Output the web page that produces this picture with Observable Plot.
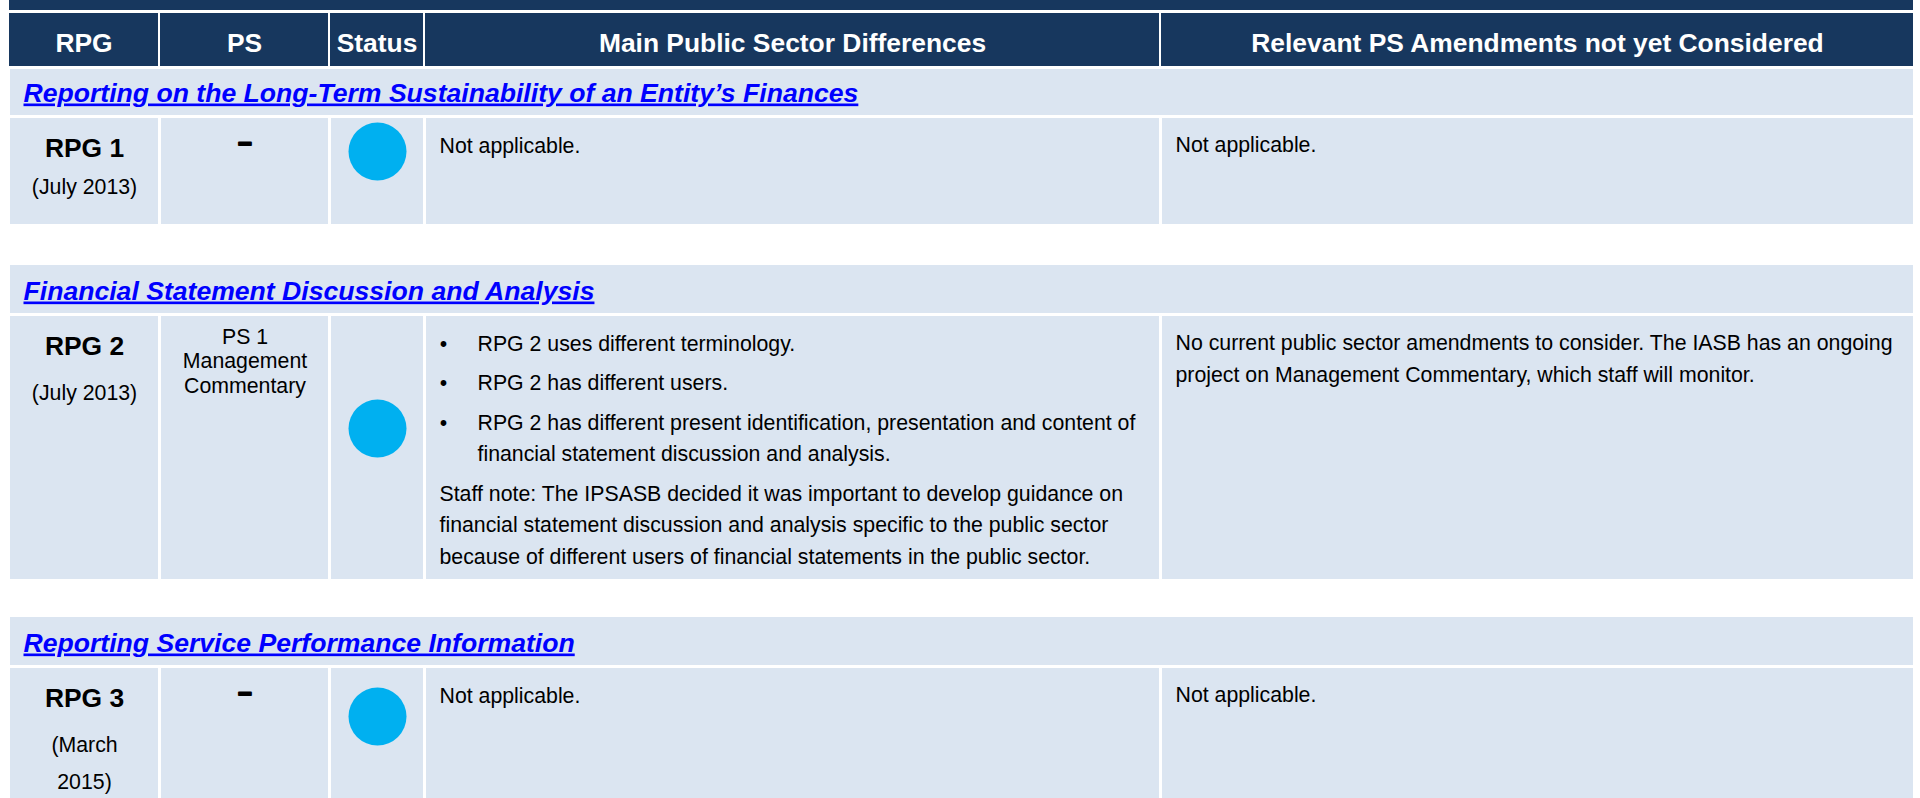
<!DOCTYPE html>
<html>
<head>
<meta charset="utf-8">
<script src="https://cdn.jsdelivr.net/npm/d3@7"></script>
<script src="https://cdn.jsdelivr.net/npm/@observablehq/plot@0.6"></script>
<style>
  html, body { margin: 0; padding: 0; background: #ffffff; overflow: hidden; }
  #chart svg { display: block; }
</style>
</head>
<body>
<div id="chart"></div>
<script>
// ---------------- DATA ----------------
const columns = ["RPG", "PS", "Status", "Main Public Sector Differences", "Relevant PS Amendments not yet Considered"];
const sections = [
  "Reporting on the Long-Term Sustainability of an Entity’s Finances",
  "Financial Statement Discussion and Analysis",
  "Reporting Service Performance Information"
];
const rpgCodes = ["RPG 1", "RPG 2", "RPG 3"];
const rpgDates = [["(July 2013)"], ["(July 2013)"], ["(March", "2015)"]];
const psRefs = [["–"], ["PS 1", "Management", "Commentary"], ["–"]];
const statuses = ["complete", "complete", "complete"];
const differences = [
  [{bullet: false, lines: ["Not applicable."]}],
  [
    {bullet: true, lines: ["RPG 2 uses different terminology."]},
    {bullet: true, lines: ["RPG 2 has different users."]},
    {bullet: true, lines: ["RPG 2 has different present identification, presentation and content of", "financial statement discussion and analysis."]},
    {bullet: false, lines: ["Staff note: The IPSASB decided it was important to develop guidance on", "financial statement discussion and analysis specific to the public sector", "because of different users of financial statements in the public sector."]}
  ],
  [{bullet: false, lines: ["Not applicable."]}]
];
const amendments = [
  ["Not applicable."],
  ["No current public sector amendments to consider. The IASB has an ongoing", "project on Management Commentary, which staff will monitor."],
  ["Not applicable."]
];

// ---------------- LAYOUT / STYLE ----------------
const W = 1920, H = 798;
const NAVY = "#17375E", LIGHT = "#DBE5F1", LINK = "#0000FF", STATUS_FILL = "#00B0F0", INK = "#000000";
const FONT = "'Liberation Sans', Arial, Helvetica, sans-serif";
const HEAD_SIZE = 26.4, SECTION_SIZE = 26.6, BODY_SIZE = 21.3;
const topBar = [0, 10];
const headerBand = [13, 66];
const headerCols = [[9, 158], [160, 328], [330, 423], [425, 1159], [1161, 1913]];
const dataCols = [[10, 158], [161, 328], [331, 423], [426, 1159], [1162, 1913]];
const sectionBands = [[69, 115], [265, 313], [617, 665]];
const rowBands = [[118, 224], [316, 579], [668, 800]];
const rowTweaks = [{dateDy: 75, circleDy: 33}, {dateDy: 83, circleDy: 112}, {dateDy: 83, circleDy: 48}];
const LINE_STEP = 31.5, PARA_STEP = 39.5;

const mid = ([a, b]) => (a + b) / 2;

// build cells
const rects = [];
rects.push({x1: headerCols[0][0], x2: headerCols[4][1], y1: topBar[0], y2: topBar[1], fill: NAVY});
headerCols.forEach(c => rects.push({x1: c[0], x2: c[1], y1: headerBand[0], y2: headerBand[1], fill: NAVY}));
sectionBands.forEach(b => rects.push({x1: dataCols[0][0], x2: dataCols[4][1], y1: b[0], y2: b[1], fill: LIGHT}));
rowBands.forEach(b => dataCols.forEach(c => rects.push({x1: c[0], x2: c[1], y1: b[0], y2: b[1], fill: LIGHT})));

// build texts
const texts = [];
columns.forEach((c, i) => texts.push({kind: "header", x: mid(headerCols[i]), y: headerBand[0] + 38, text: c}));
sections.forEach((s, i) => texts.push({kind: "section", x: 23, y: sectionBands[i][1] - 14, text: s}));
const circles = [];
rowBands.forEach(([top], i) => {
  texts.push({kind: "code", x: mid(dataCols[0]), y: top + 38.5, text: rpgCodes[i]});
  rpgDates[i].forEach((t, j) => texts.push({kind: "center", x: mid(dataCols[0]), y: top + rowTweaks[i].dateDy + j * 37, text: t}));
  if (psRefs[i].length === 1 && psRefs[i][0] === "–") {
    texts.push({kind: "dash", x: mid(dataCols[1]), y: top + 31, text: psRefs[i][0]});
  } else {
    psRefs[i].forEach((t, j) => texts.push({kind: "center", x: mid(dataCols[1]), y: top + 27 + j * 24.5, text: t}));
  }
  circles.push({x: mid(dataCols[2]), y: top + rowTweaks[i].circleDy, status: statuses[i]});
  let y = top + 34;
  differences[i].forEach((p, k) => {
    if (k > 0) y += PARA_STEP;
    p.lines.forEach((l, j) => {
      if (j > 0) y += LINE_STEP;
      texts.push({kind: "body", x: p.bullet ? dataCols[3][0] + 51 : dataCols[3][0] + 13, y, text: l});
      if (p.bullet && j === 0) texts.push({kind: "bullet", x: dataCols[3][0] + 17, y, text: "•"});
    });
  });
  amendments[i].forEach((l, j) => texts.push({kind: "body", x: dataCols[4][0] + 13, y: top + 33.5 + j * 32, text: l}));
});

const T = k => texts.filter(d => d.kind === k);

const chart = Plot.plot({
  width: W,
  height: H,
  margin: 0,
  x: {type: "identity", axis: null},
  y: {type: "identity", axis: null},
  style: {background: "#ffffff", fontFamily: FONT},
  marks: [
    Plot.rect(rects, {x1: "x1", x2: "x2", y1: "y1", y2: "y2", fill: d => d.fill, shapeRendering: "crispEdges"}),
    Plot.text(T("header"), {x: "x", y: "y", text: "text", fill: "#ffffff", fontSize: HEAD_SIZE, fontWeight: "bold", fontFamily: FONT, textAnchor: "middle", lineAnchor: "bottom"}),
    Plot.text(T("section"), {x: "x", y: "y", text: "text", fill: LINK, fontSize: SECTION_SIZE, fontWeight: "bold", fontStyle: "italic", fontFamily: FONT, textAnchor: "start", lineAnchor: "bottom"}),
    Plot.text(T("code"), {x: "x", y: "y", text: "text", fill: INK, fontSize: HEAD_SIZE, fontWeight: "bold", fontFamily: FONT, textAnchor: "middle", lineAnchor: "bottom"}),
    Plot.text(T("center"), {x: "x", y: "y", text: "text", fill: INK, fontSize: BODY_SIZE, fontFamily: FONT, textAnchor: "middle", lineAnchor: "bottom"}),
    Plot.text(T("dash"), {x: "x", y: "y", text: "text", fill: INK, stroke: INK, strokeWidth: 2, fontSize: 24, fontWeight: "bold", fontFamily: FONT, textAnchor: "middle", lineAnchor: "bottom"}),
    Plot.text(T("body"), {x: "x", y: "y", text: "text", fill: INK, fontSize: BODY_SIZE, fontFamily: FONT, textAnchor: "start", lineAnchor: "bottom"}),
    Plot.text(T("bullet"), {x: "x", y: "y", text: "text", fill: INK, fontSize: BODY_SIZE, fontFamily: FONT, textAnchor: "middle", lineAnchor: "bottom"}),
    Plot.dot(circles, {x: "x", y: "y", r: 29, fill: STATUS_FILL, stroke: null})
  ]
});

// underline the section titles (hyperlink style)
d3.select(chart).selectAll("g").filter(function() { return this.getAttribute("fill") === LINK; })
  .selectAll("text").style("text-decoration", "underline");

document.getElementById("chart").appendChild(chart);
</script>
</body>
</html>
